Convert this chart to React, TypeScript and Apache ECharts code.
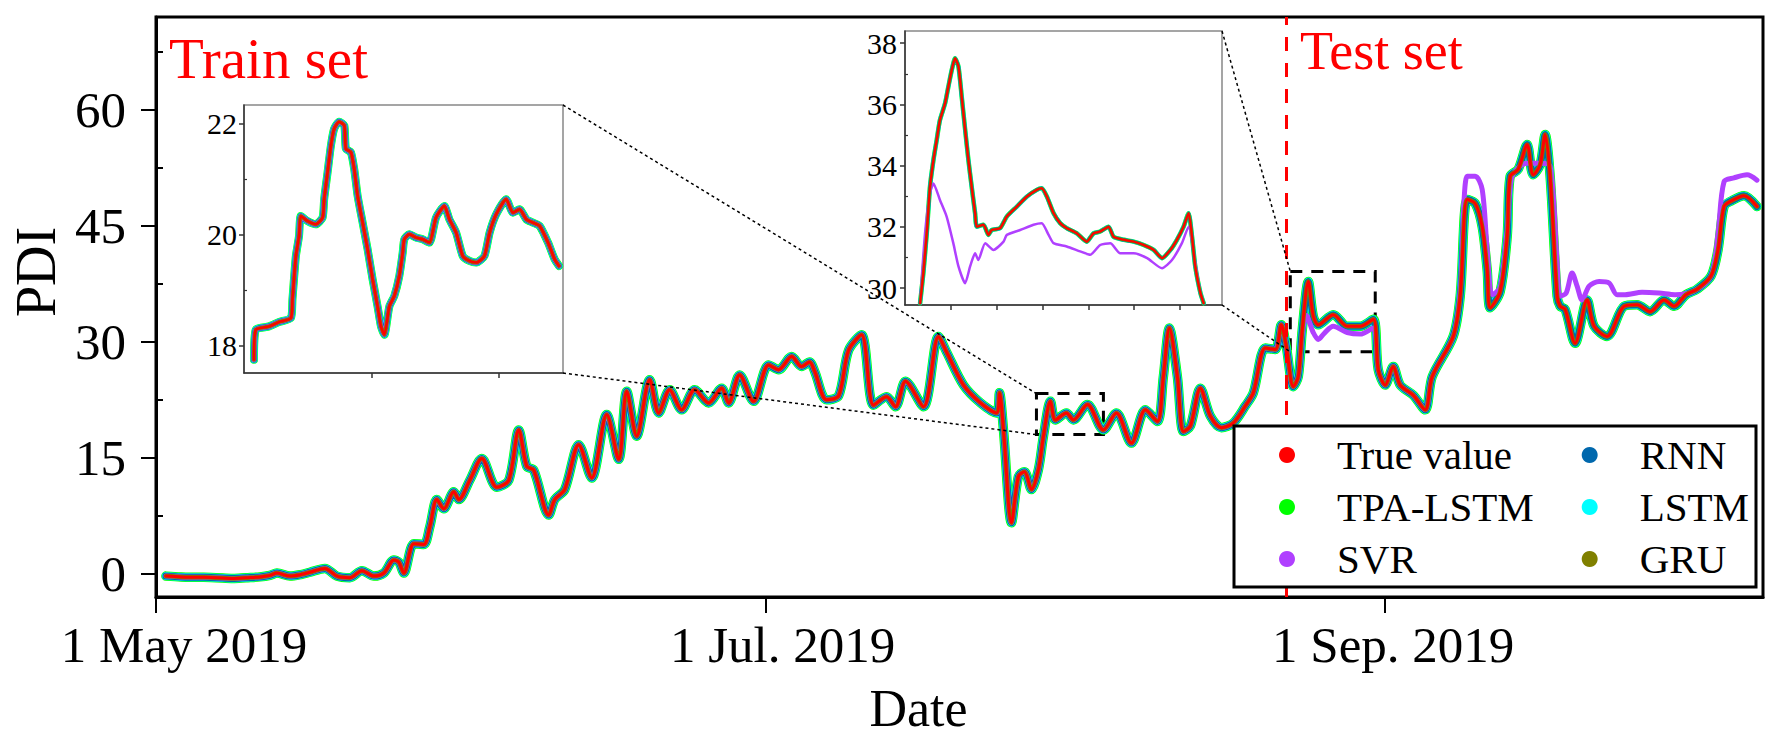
import React, { useEffect, useRef } from 'react';
import * as echarts from 'echarts';

// ---------------- data ----------------
const seriesNames = ['True value', 'TPA-LSTM', 'SVR', 'RNN', 'LSTM', 'GRU'];
const seriesColors: Record<string, string> = {
  'True value': '#ff0000',
  'TPA-LSTM': '#00ff00',
  SVR: '#b040ff',
  RNN: '#0068ad',
  LSTM: '#00ffff',
  GRU: '#808000',
};

// main x axis: days since 1 May 2019
const xTickDays = [0, 61, 123];
const xTickLabels = ['1 May 2019', '1 Jul. 2019', '1 Sep. 2019'];
const yTickValues = [0, 15, 30, 45, 60];
const yMinorTicks = [7.5, 22.5, 37.5, 52.5, 67.5];
const trainTestSplitDay = 113.1;

// [day, PDI]
const trueValue: [number, number][] = [
  [1.0, -0.3], [2.5, -0.4], [4.4, -0.45], [6.0, -0.5], [7.7, -0.6], [9.0, -0.5], [10.4, -0.4],
  [11.4, -0.2], [12.1, 0.1], [13.4, -0.3], [14.5, -0.1], [15.4, 0.2], [16.9, 0.7], [18.1, -0.3],
  [19.4, -0.5], [20.6, 0.4], [21.8, -0.3], [22.8, 0.1], [23.8, 1.8], [24.3, 1.5], [24.8, 0.1],
  [25.8, 3.9], [26.8, 3.8], [27.4, 6.1], [28.1, 9.6], [28.8, 8.4], [29.8, 10.6], [30.3, 9.6],
  [31.4, 12.1], [32.6, 14.9], [34.1, 11.2], [35.3, 12.1], [36.3, 18.6], [37.1, 13.9], [37.8, 13.4],
  [39.3, 7.6], [39.9, 9.6], [40.9, 10.9], [42.3, 16.7], [43.6, 12.4], [45.1, 20.6], [46.3, 14.8],
  [47.1, 23.6], [48.1, 17.8], [49.4, 25.1], [50.3, 20.8], [51.4, 23.8], [52.6, 21.2], [53.9, 23.8],
  [55.3, 22.1], [56.6, 24.0], [57.3, 22.1], [58.4, 25.7], [59.8, 22.3], [61.3, 27.0], [62.3, 26.4],
  [63.6, 28.1], [64.6, 26.8], [65.4, 27.4], [65.9, 26.2], [67.1, 22.5], [68.3, 23.0], [69.3, 28.9],
  [70.6, 30.9], [71.8, 21.8], [73.1, 22.9], [74.0, 21.6], [75.0, 24.9], [76.8, 21.6], [78.3, 30.7],
  [79.1, 28.7], [80.8, 24.4], [82.5, 22.1], [84.1, 20.8], [84.4, 23.4], [84.8, 18.6], [85.6, 6.6],
  [86.3, 12.6], [86.9, 13.2], [87.6, 10.9], [88.3, 13.5], [88.8, 17.8], [89.5, 22.3], [90.0, 19.9],
  [91.1, 20.8], [91.8, 19.9], [93.2, 21.9], [94.8, 18.6], [96.1, 20.8], [97.6, 16.9], [99.0, 21.2],
  [100.2, 19.7], [100.8, 25.5], [101.4, 31.8], [102.2, 25.5], [102.8, 18.4], [103.5, 19.1],
  [104.5, 24.0], [105.5, 20.4], [106.6, 18.9], [107.8, 19.5], [109.0, 21.7], [109.8, 23.4],
  [111.0, 29.2], [112.0, 29.0], [112.6, 32.2], [113.1, 29.4], [113.8, 24.2], [114.3, 25.5],
  [114.7, 31.6], [115.3, 37.8], [115.8, 33.3], [116.3, 32.2], [117.8, 33.5], [119.2, 32.0],
  [120.5, 32.0], [121.8, 32.9], [122.3, 26.4], [123.0, 24.4], [123.8, 26.8], [124.5, 24.4],
  [125.8, 23.1], [127.0, 21.2], [127.7, 25.5], [129.8, 30.7], [130.5, 35.9], [131.2, 48.4],
  [132.0, 47.9], [132.7, 44.9], [133.2, 39.3], [133.5, 34.4], [134.5, 36.5], [135.2, 43.6],
  [135.5, 51.4], [136.3, 52.3], [137.2, 55.5], [137.8, 51.6], [138.5, 52.9], [139.0, 56.8],
  [139.5, 51.4], [140.2, 35.9], [140.5, 34.6], [141.0, 34.2], [142.0, 29.8], [143.2, 35.4],
  [143.9, 32.0], [145.2, 30.7], [146.9, 34.6], [148.2, 34.8], [149.5, 33.9], [150.9, 35.4],
  [151.9, 34.6], [153.1, 36.1], [154.2, 36.8], [155.6, 38.5], [156.3, 41.9], [156.9, 47.5],
  [157.6, 48.2], [158.9, 48.9], [160.2, 47.5],
];

// SVR where it departs from the true value (test period)
const svrTest: [number, number][] = [
  [114.7, 31.0], [115.1, 33.4], [115.8, 31.2], [116.3, 30.3], [116.9, 31.1], [117.8, 32.0],
  [119.2, 31.2], [120.5, 31.0], [121.8, 31.8], [122.3, 26.4], [123.0, 24.4], [123.8, 26.8],
  [124.5, 24.4], [125.8, 23.1], [127.0, 21.2], [127.7, 25.5], [129.8, 30.7], [130.5, 36.5],
  [131.2, 51.4], [132.0, 51.4], [132.7, 49.7], [133.2, 41.9], [133.7, 36.1], [134.5, 37.0],
  [135.2, 44.5], [135.6, 51.0], [136.3, 52.5], [137.2, 53.1], [138.5, 53.1], [139.5, 52.7],
  [140.2, 40.2], [140.5, 35.9], [141.1, 36.3], [141.7, 38.9], [142.2, 37.2], [142.7, 35.4],
  [143.4, 37.2], [144.4, 37.8], [145.4, 37.6], [146.2, 36.1], [147.0, 36.1], [148.7, 36.4],
  [150.4, 36.3], [152.0, 36.1], [153.8, 36.5], [155.6, 38.5], [156.3, 44.0], [156.9, 50.7],
  [157.9, 51.2], [159.2, 51.6], [160.2, 50.9],
];

// zoom boxes on the main chart (data coordinates: days / PDI)
const trainZoomBox = { dayFrom: 88.1, dayTo: 94.8, pdiFrom: 18.0, pdiTo: 23.3 };
const testZoomBox = { dayFrom: 113.5, dayTo: 122.0, pdiFrom: 28.7, pdiTo: 39.1 };

// inset 1 (train zoom): [hour, PDI]
const insetTrainTicksX = [64, 128];
const insetTrainTicksY = [18, 20, 22];
const insetTrainMinorY = [19, 21];
const insetTrainTrue: [number, number][] = [
  [5.0, 17.74], [5.9, 18.28], [12.6, 18.34], [17.6, 18.42], [23.5, 18.49], [24.3, 18.83],
  [26.0, 19.6], [27.6, 19.97], [28.5, 20.33], [31.8, 20.24], [36.0, 20.18], [39.4, 20.3],
  [40.2, 20.63], [41.9, 21.11], [43.6, 21.6], [45.2, 21.9], [47.7, 22.03], [50.3, 21.96],
  [51.1, 21.54], [53.6, 21.48], [55.3, 21.17], [57.0, 20.69], [59.5, 20.21], [62.0, 19.73],
  [64.5, 19.19], [67.0, 18.7], [68.7, 18.34], [70.4, 18.19], [72.9, 18.7], [75.4, 18.89],
  [77.9, 19.25], [79.6, 19.67], [80.4, 19.91], [82.9, 20.0], [86.3, 19.94], [89.6, 19.91],
  [93.0, 19.85], [96.3, 20.3], [100.5, 20.51], [103.0, 20.27], [106.4, 20.03], [109.7, 19.61],
  [113.1, 19.52], [116.5, 19.49], [120.6, 19.61], [123.2, 20.03], [126.5, 20.36], [131.5, 20.63],
  [134.9, 20.39], [138.2, 20.45], [141.6, 20.27], [144.9, 20.21], [148.3, 20.15], [152.5, 19.85],
  [155.8, 19.55], [158.0, 19.43],
];

// inset 2 (test zoom): [hour, PDI]
const insetTestTicksX = [24, 48, 72, 96, 120, 144];
const insetTestTicksY = [30, 32, 34, 36, 38];
const insetTestMinorY = [31, 33, 35, 37];
const insetTestTrue: [number, number][] = [
  [7.9, 29.51], [9.6, 30.49], [11.4, 31.8], [13.1, 33.32], [14.9, 34.19], [16.6, 34.84],
  [18.3, 35.49], [21.0, 36.04], [22.7, 36.58], [24.5, 37.13], [26.2, 37.51], [28.0, 37.24],
  [29.7, 36.25], [31.5, 35.17], [33.2, 34.19], [34.9, 33.32], [36.7, 32.45], [37.6, 32.01],
  [41.1, 32.07], [43.7, 31.74], [45.4, 31.9], [49.8, 31.96], [53.3, 32.34], [58.5, 32.66],
  [63.8, 32.99], [69.0, 33.21], [71.6, 33.26], [74.3, 32.99], [77.8, 32.45], [81.3, 32.12],
  [84.7, 31.96], [90.0, 31.79], [95.2, 31.52], [98.7, 31.79], [102.2, 31.85], [106.6, 32.01],
  [109.2, 31.68], [114.5, 31.58], [119.7, 31.52], [125.0, 31.41], [130.2, 31.25], [134.6, 30.98],
  [139.0, 31.25], [142.4, 31.58], [145.9, 32.01], [148.5, 32.45], [150.3, 31.68], [152.0, 30.71],
  [154.7, 29.84], [156.4, 29.51],
];
const insetTestSvr: [number, number][] = [
  [7.9, 29.51], [10.5, 31.8], [13.1, 33.1], [14.9, 33.42], [18.3, 32.88], [21.8, 32.34],
  [25.3, 31.47], [28.0, 30.71], [31.5, 30.16], [34.1, 30.71], [36.7, 31.14], [38.4, 30.92],
  [42.0, 31.47], [46.3, 31.25], [51.6, 31.52], [53.3, 31.74], [60.3, 31.9], [67.3, 32.07],
  [71.6, 32.12], [75.2, 31.74], [77.8, 31.47], [84.7, 31.36], [91.7, 31.2], [97.0, 31.09],
  [102.2, 31.41], [107.5, 31.47], [112.7, 31.14], [119.7, 31.14], [126.8, 30.98], [134.6, 30.65],
  [139.8, 30.92], [145.0, 31.47], [148.5, 32.01], [151.2, 31.14], [154.7, 29.84], [156.4, 29.51],
];

// ---------------- layout / style ----------------
const FONT = "'Liberation Serif', 'Times New Roman', serif";
const MAIN = { left: 156, top: 17, right: 20, bottom: 145 };
const INSET1 = { left: 244, top: 105, width: 319, height: 268 };
const INSET2 = { left: 905, top: 31, width: 317, height: 274 };
const xLabelShift = [56, 34, 16]; // left padding per tick label (shifts the text right)

// drawing order (bottom -> top) and widths: [main, inset1, inset2]
const drawOrder = ['TPA-LSTM', 'LSTM', 'RNN', 'SVR', 'GRU', 'True value'];
const widths: Record<string, number[]> = {
  'TPA-LSTM': [9.5, 8, 4.5],
  LSTM: [8, 7, 4],
  RNN: [7, 6, 3.5],
  SVR: [5, 5, 2.5],
  GRU: [4.5, 4, 3],
  'True value': [3, 2.5, 2],
};

function mainData(name: string): [number, number][] {
  if (name === 'SVR') {
    const start = svrTest[0][0];
    return trueValue.filter((d) => d[0] < start).concat(svrTest);
  }
  return trueValue;
}

function lineSeries(name: string, data: [number, number][], xi: number, yi: number, width: number, smooth: number, extra: any = {}) {
  return {
    type: 'line',
    name,
    data,
    xAxisIndex: xi,
    yAxisIndex: yi,
    showSymbol: false,
    symbol: 'none',
    silent: true,
    smooth,
    emphasis: { disabled: true },
    lineStyle: { color: seriesColors[name], width, join: 'round', cap: 'round' },
    itemStyle: { color: seriesColors[name] },
    ...extra,
  };
}

function buildOption(): any {
  const series: any[] = [];
  drawOrder.forEach((name) => {
    const w = widths[name];
    const extra: any = {};
    if (name === 'True value') {
      extra.markLine = {
        silent: true,
        symbol: ['none', 'none'],
        label: { show: false },
        lineStyle: { color: '#ff0000', width: 3, type: [14, 12] },
        data: [{ xAxis: trainTestSplitDay }],
      };
      extra.markArea = {
        silent: true,
        itemStyle: { color: 'rgba(0,0,0,0)', borderColor: '#000', borderWidth: 3, borderType: [12, 9] },
        data: [
          [{ coord: [trainZoomBox.dayFrom, trainZoomBox.pdiTo] }, { coord: [trainZoomBox.dayTo, trainZoomBox.pdiFrom] }],
          [{ coord: [testZoomBox.dayFrom, testZoomBox.pdiTo] }, { coord: [testZoomBox.dayTo, testZoomBox.pdiFrom] }],
        ],
      };
    }
    series.push(lineSeries(name, mainData(name), 0, 0, w[0], 0.3, extra));
    series.push(lineSeries(name, insetTrainTrue, 1, 2, w[1], 0.2));
    series.push(lineSeries(name, name === 'SVR' ? insetTestSvr : insetTestTrue, 2, 4, w[2], 0.2));
  });

  const insetAxisLine = { show: true, lineStyle: { color: '#333', width: 1.5 } };
  const insetLabel = (vals: number[], margin: number) => ({
    customValues: vals,
    fontSize: 30,
    fontFamily: FONT,
    color: '#000',
    margin,
  });
  const rich: Record<string, any> = {};
  xLabelShift.forEach((p, i) => {
    rich['t' + i] = { fontSize: 51, fontFamily: FONT, color: '#000', padding: [0, 0, 0, p] };
  });

  return {
    animation: false,
    backgroundColor: '#fff',
    grid: [
      { ...MAIN, show: true, borderColor: '#000', borderWidth: 3, backgroundColor: 'rgba(0,0,0,0)' },
      { ...INSET1, show: true, borderColor: '#888', borderWidth: 1.5, backgroundColor: '#fff' },
      { ...INSET2, show: true, borderColor: '#888', borderWidth: 1.5, backgroundColor: '#fff' },
    ],
    xAxis: [
      {
        gridIndex: 0,
        type: 'value',
        min: 0,
        max: 160.8,
        axisLine: { show: true, onZero: false, lineStyle: { color: '#000', width: 3 } },
        axisTick: { show: true, customValues: xTickDays, length: 16, lineStyle: { color: '#000', width: 2 } },
        axisLabel: {
          customValues: xTickDays,
          formatter: (v: number) => {
            const i = xTickDays.indexOf(v);
            return i >= 0 ? `{t${i}|${xTickLabels[i]}}` : '';
          },
          rich,
          fontSize: 51,
          fontFamily: FONT,
          color: '#000',
          margin: 22,
        },
        splitLine: { show: false },
        name: 'Date',
        nameLocation: 'middle',
        nameGap: 85,
        nameTextStyle: { fontSize: 52, fontFamily: FONT, color: '#000', padding: [0, 82, 0, 0] },
      },
      {
        gridIndex: 1,
        type: 'value',
        min: 0,
        max: 160,
        axisLine: { ...insetAxisLine, onZero: false },
        axisTick: { show: true, customValues: insetTrainTicksX, length: 5, lineStyle: { color: '#333', width: 1.5 } },
        axisLabel: { show: false },
        splitLine: { show: false },
      },
      {
        gridIndex: 2,
        type: 'value',
        min: 0,
        max: 166,
        axisLine: { ...insetAxisLine, onZero: false },
        axisTick: { show: true, customValues: insetTestTicksX, length: 5, lineStyle: { color: '#333', width: 1.5 } },
        axisLabel: { show: false },
        splitLine: { show: false },
      },
    ],
    yAxis: [
      {
        gridIndex: 0,
        type: 'value',
        min: -3,
        max: 72,
        axisLine: { show: true, onZero: false, lineStyle: { color: '#000', width: 3 } },
        axisTick: { show: true, customValues: yTickValues, length: 15, lineStyle: { color: '#000', width: 2 } },
        axisLabel: { customValues: yTickValues, fontSize: 51, fontFamily: FONT, color: '#000', margin: 30 },
        splitLine: { show: false },
        name: 'PDI',
        nameLocation: 'middle',
        nameGap: 87,
        nameTextStyle: { fontSize: 56, fontFamily: FONT, color: '#000', padding: [0, 0, 0, 70] },
      },
      {
        gridIndex: 0,
        type: 'value',
        min: -3,
        max: 72,
        axisLine: { show: false },
        axisTick: { show: true, customValues: yMinorTicks, length: 7, lineStyle: { color: '#000', width: 2 } },
        axisLabel: { show: false },
        splitLine: { show: false },
      },
      {
        gridIndex: 1,
        type: 'value',
        min: 17.5,
        max: 22.33,
        axisLine: { ...insetAxisLine, onZero: false },
        axisTick: { show: true, customValues: insetTrainTicksY, length: 5, lineStyle: { color: '#333', width: 1.5 } },
        axisLabel: insetLabel(insetTrainTicksY, 7),
        splitLine: { show: false },
      },
      {
        gridIndex: 1,
        type: 'value',
        min: 17.5,
        max: 22.33,
        axisLine: { show: false },
        axisTick: { show: true, customValues: insetTrainMinorY, length: 3, lineStyle: { color: '#333', width: 1.2 } },
        axisLabel: { show: false },
        splitLine: { show: false },
      },
      {
        gridIndex: 2,
        type: 'value',
        min: 29.45,
        max: 38.4,
        axisLine: { ...insetAxisLine, onZero: false },
        axisTick: { show: true, customValues: insetTestTicksY, length: 5, lineStyle: { color: '#333', width: 1.5 } },
        axisLabel: insetLabel(insetTestTicksY, 8),
        splitLine: { show: false },
      },
      {
        gridIndex: 2,
        type: 'value',
        min: 29.45,
        max: 38.4,
        axisLine: { show: false },
        axisTick: { show: true, customValues: insetTestMinorY, length: 3, lineStyle: { color: '#333', width: 1.2 } },
        axisLabel: { show: false },
        splitLine: { show: false },
      },
    ],
    legend: {
      data: seriesNames,
      orient: 'vertical',
      left: 1279,
      top: 433,
      height: 150,
      padding: 0,
      itemGap: 8,
      itemWidth: 16,
      itemHeight: 16,
      icon: 'circle',
      selectedMode: false,
      z: 6,
      textStyle: {
        fontSize: 41,
        fontFamily: FONT,
        color: '#000',
        lineHeight: 44,
        padding: [0, 40, 0, 37],
      },
    },
    series,
  };
}

export default function App() {
  const ref = useRef<HTMLDivElement>(null);
  useEffect(() => {
    if (!ref.current) return;
    const chart = echarts.init(ref.current, null, { renderer: 'svg' });
    chart.setOption(buildOption());

    const px = (d: number, v: number) =>
      chart.convertToPixel({ xAxisIndex: 0, yAxisIndex: 0 }, [d, v]) as number[];
    const b1tl = px(trainZoomBox.dayFrom, trainZoomBox.pdiTo);
    const b1bl = px(trainZoomBox.dayFrom, trainZoomBox.pdiFrom);
    const b2tl = px(testZoomBox.dayFrom, testZoomBox.pdiTo);
    const b2bl = px(testZoomBox.dayFrom, testZoomBox.pdiFrom);
    const i1r = INSET1.left + INSET1.width;
    const i2r = INSET2.left + INSET2.width;
    const dotted = { stroke: '#000', lineWidth: 1.5, lineDash: [3, 3] };
    const connector = (x1: number, y1: number, x2: number, y2: number) => ({
      type: 'line',
      silent: true,
      z: 5,
      shape: { x1, y1, x2, y2 },
      style: dotted,
    });

    chart.setOption({
      graphic: [
        connector(i1r, INSET1.top, b1tl[0], b1tl[1]),
        connector(i1r, INSET1.top + INSET1.height, b1bl[0], b1bl[1]),
        connector(i2r, INSET2.top, b2tl[0], b2tl[1]),
        connector(i2r, INSET2.top + INSET2.height, b2bl[0], b2bl[1]),
        {
          type: 'rect',
          silent: true,
          z: 5,
          shape: { x: 1234, y: 426, width: 522, height: 161 },
          style: { fill: '#fff', stroke: '#000', lineWidth: 3 },
        },
        {
          type: 'text',
          silent: true,
          z: 6,
          style: { text: 'Train set', x: 169, y: 58, fill: '#ff0000', font: `57px ${FONT}`, textVerticalAlign: 'middle' },
        },
        {
          type: 'text',
          silent: true,
          z: 6,
          style: { text: 'Test set', x: 1300, y: 51, fill: '#ff0000', font: `54px ${FONT}`, textVerticalAlign: 'middle' },
        },
      ],
    });

    return () => chart.dispose();
  }, []);
  return <div ref={ref} style={{ position: 'fixed', left: 0, top: 0, width: 1783, height: 742 }} />;
}
